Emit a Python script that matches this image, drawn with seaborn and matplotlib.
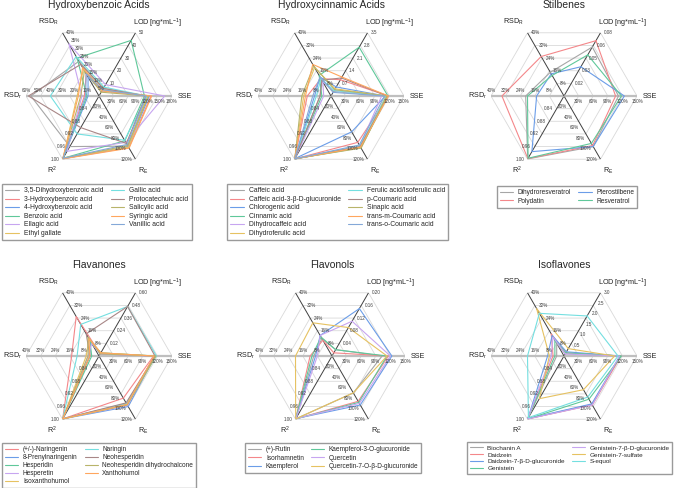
import numpy as np
import pandas as pd
import matplotlib
matplotlib.use('Agg')
import matplotlib.pyplot as plt
from matplotlib.lines import Line2D
import seaborn as sns

sns.set_style("white")
plt.rcParams['font.family'] = ['Liberation Sans', 'DejaVu Sans']
plt.rcParams['mathtext.default'] = 'regular'

# axis order round the hexagon: LOD, SSE, R_E, R2, RSD_r, RSD_R
axis_names = ['LOD [ng*mL$^{-1}$]', 'SSE', 'R$_E$', 'R$^2$', 'RSD$_r$', 'RSD$_R$']
axis_angles = [60, 0, -60, -120, 180, 120]

palette = ['#a6a6a6', '#f4878a', '#6b9de8', '#5fc89a', '#c7a5f0', '#e6c261',
           '#74dfe0', '#a88787', '#b8b46a', '#ffa65e', '#84a8d8']

# ---------------- Hydroxybenzoic acids ----------------
hba_names = ['3,5-Dihydroxybenzoic acid', '3-Hydroxybenzoic acid', '4-Hydroxybenzoic acid',
             'Benzoic acid', 'Ellagic acid', 'Ethyl gallate', 'Gallic acid',
             'Protocatechuic acid', 'Salicylic acid', 'Syringic acid', 'Vanillic acid']
hba_lod = [6, 5, 4, 44, 9, 5, 7, 6, 3, 4, 5]
hba_sse = [118, 128, 124, 112, 162, 120, 118, 115, 122, 130, 116]
hba_re = [95, 98, 96, 85, 88, 97, 84, 90, 94, 99, 92]
hba_r2 = [0.96, 0.998, 0.999, 0.997, 0.975, 0.996, 0.92, 0.90, 0.998, 0.999, 0.997]
hba_rsdr = [56, 12, 9, 10, 14, 18, 40, 58, 15, 17, 11]
hba_rsdR = [22, 14, 12, 24, 33, 17, 25, 20, 16, 18, 14]

# ---------------- Hydroxycinnamic acids ----------------
hca_names = ['Caffeic acid', 'Caffeic acid-3-β-D-glucuronide', 'Chlorogenic acid',
             'Cinnamic acid', 'Dihydrocaffeic acid', 'Dihydroferulic acid',
             'Ferulic acid/Isoferulic acid', 'p-Coumaric acid', 'Sinapic acid',
             'trans-m-Coumaric acid', 'trans-o-Coumaric acid']
hca_lod = [0.25, 0.9, 0.5, 2.7, 0.3, 0.4, 0.3, 1.0, 0.35, 1.05, 0.2]
hca_sse = [115, 118, 112, 117, 104, 113, 114, 116, 115, 118, 110]
hca_re = [96, 88, 68, 98, 95, 97, 95, 96, 99, 97, 93]
hca_r2 = [0.999, 0.999, 0.998, 0.999, 0.998, 0.999, 0.999, 0.999, 0.998, 0.999, 0.999]
hca_rsdr = [6, 13, 9, 5, 4, 15, 8, 6, 16, 14, 10]
hca_rsdR = [10, 11, 12, 13, 9, 18, 11, 10, 19, 20, 12]

# ---------------- Stilbenes ----------------
stb_names = ['Dihydroresveratrol', 'Polydatin', 'Pterostilbene', 'Resveratrol']
stb_lod = [0.062, 0.070, 0.037, 0.052]
stb_sse = [112, 106, 124, 118]
stb_re = [96, 94, 96, 90]
stb_r2 = [0.999, 0.998, 0.976, 0.997]
stb_rsdr = [21, 34, 15, 20]
stb_rsdR = [15, 25, 14, 13]

# ---------------- Flavanones ----------------
fla_names = ['(+/-)-Naringenin', '8-Prenylnaringenin', 'Hesperidin', 'Hesperetin',
             'Isoxanthohumol', 'Naringin', 'Neohesperidin',
             'Neohesperidin dihydrochalcone', 'Xanthohumol']
fla_lod = [0.02, 0.02, 0.03, 0.02, 0.03, 0.47, 0.47, 0.02, 0.03]
fla_sse = [112, 115, 116, 113, 114, 118, 115, 117, 113]
fla_re = [80, 96, 91, 94, 92, 90, 89, 93, 92]
fla_r2 = [0.999, 0.999, 0.999, 0.998, 0.999, 0.999, 0.999, 0.999, 0.999]
fla_rsdr = [15, 5, 4, 6, 7, 12, 5, 6, 5]
fla_rsdR = [25, 9, 10, 8, 11, 20, 14, 12, 11]

# ---------------- Flavonols ----------------
fol_names = ['(+)-Rutin', 'Isorhamnetin', 'Kaempferol', 'Kaempferol-3-O-glucuronide',
             'Quercetin', 'Quercetin-7-O-β-D-glucuronide']
fol_lod = [0.02, 0.01, 0.15, 0.02, 0.11, 0.09]
fol_sse = [103, 116, 123, 113, 120, 113]
fol_re = [70, 86, 93, 88, 90, 70]
fol_r2 = [0.999, 0.999, 0.998, 0.999, 0.998, 0.999]
fol_rsdr = [10, 12, 9, 11, 8, 20]
fol_rsdR = [11, 10, 13, 12, 13, 21]

# ---------------- Isoflavones ----------------
iso_names = ['Biochanin A', 'Daidzein', 'Daidzein-7-β-D-glucuronide', 'Genistein',
             'Genistein-7-β-D-glucuronide', 'Genistein-7-sulfate', 'S-equol']
iso_lod = [0.1, 0.15, 0.2, 0.15, 0.1, 0.35, 1.9]
iso_sse = [116, 117, 115, 118, 114, 104, 111]
iso_re = [92, 93, 91, 82, 93, 64, 78]
iso_r2 = [0.999, 0.999, 0.998, 0.999, 0.999, 0.935, 0.995]
iso_rsdr = [4, 6, 9, 5, 7, 8, 20]
iso_rsdR = [8, 14, 13, 10, 12, 30, 27]

# tick labels per axis
lod_ticks_hba = ['10', '20', '30', '40', '50']
lod_ticks_hca = ['0.7', '1.4', '2.1', '2.8', '3.5']
lod_ticks_stb = ['0.02', '0.03', '0.05', '0.06', '0.08']
lod_ticks_fla = ['0.12', '0.24', '0.36', '0.48', '0.60']
lod_ticks_fol = ['0.04', '0.08', '0.12', '0.16', '0.20']
lod_ticks_iso = ['0.5', '1.0', '1.5', '2.0', '2.5', '3.0']
sse_ticks_hba = ['30%', '60%', '90%', '120%', '150%', '180%']
sse_ticks = ['30%', '60%', '90%', '120%', '150%']
re_ticks = ['20%', '40%', '60%', '80%', '100%', '120%']
r2_ticks = ['0.84', '0.88', '0.92', '0.96', '1.00']
rsdr_ticks_hba = ['10%', '20%', '30%', '40%', '50%', '60%']
rsd_ticks = ['8%', '16%', '24%', '32%', '40%']
rsdR_ticks_hba = ['5%', '10%', '15%', '20%', '25%', '30%', '35%', '40%']

W, H = 676, 488
fig = plt.figure(figsize=(W / 100, H / 100), dpi=100)
R = 73

label_style = {
    60: dict(off=(2.5, 0), ha='left', va='center'),
    0: dict(off=(0, -2), ha='center', va='top'),
    -60: dict(off=(-2.5, 0), ha='right', va='center'),
    -120: dict(off=(-2.5, 0), ha='right', va='center'),
    180: dict(off=(0, 2), ha='center', va='bottom'),
    120: dict(off=(2.5, 0), ha='left', va='center'),
}
name_pos = [(0.90, 1.0), (1.09, 0.5), (0.80, -0.01), (0.18, -0.01), (-0.09, 0.5), (0.15, 1.01)]


def radar(cx, cy, title, names, cols, lims, ticks, colors, leg_xy, leg_fs=4.8, leg_ls=0.22):
    ax = fig.add_axes([(cx - R) / W, 1 - (cy + R) / H, 2 * R / W, 2 * R / H], projection='polar')
    th = np.deg2rad(axis_angles + [axis_angles[0]])
    # hexagonal grid
    for k in range(1, 6):
        ax.plot(th, [k / 5] * 7, color='#d9d9d9', lw=0.6, zorder=1)
    for a in axis_angles:
        if a in (0, 180):
            ax.plot([np.deg2rad(a)] * 2, [0, 1], color='#bfbfbf', lw=1.6, zorder=1)
        else:
            ax.plot([np.deg2rad(a)] * 2, [0, 1], color='#404040', lw=0.7, zorder=1)

    rows = []
    for i, n in enumerate(names):
        for j in range(7):
            k = j % 6
            lo, hi = lims[k]
            rows.append({'compound': n, 'theta': th[j], 'r': (cols[k][i] - lo) / (hi - lo), 'step': j})
    df = pd.DataFrame(rows)
    sns.lineplot(data=df, x='theta', y='r', hue='compound', palette=dict(zip(names, colors)),
                 sort=False, estimator=None, lw=0.8, ax=ax, legend=False, zorder=3)

    ax.set_ylim(0, 1)
    ax.set_xticks([])
    ax.set_yticks([])
    ax.grid(False)
    ax.spines['polar'].set_visible(False)
    ax.patch.set_alpha(0)
    ax.set_xlabel('')
    ax.set_ylabel('')

    for k, a in enumerate(axis_angles):
        st = label_style[a]
        labs = ticks[k]
        n = len(labs)
        for m, lab in enumerate(labs):
            ax.annotate(lab, xy=(np.deg2rad(a), (m + 1) / n), xytext=st['off'],
                        textcoords='offset points', ha=st['ha'], va=st['va'],
                        fontsize=3.3, color='#404040', annotation_clip=False)
        ax.text(name_pos[k][0], name_pos[k][1], axis_names[k], transform=ax.transAxes,
                ha='center', va='center', fontsize=5.2, color='#222222')

    ax.text(0.5, 1.125, title, transform=ax.transAxes, ha='center', va='center', fontsize=7.5)

    handles = [Line2D([], [], color=c, lw=0.8) for c in colors]
    fig.legend(handles, names, loc='upper left', bbox_to_anchor=(leg_xy[0] / W, 1 - leg_xy[1] / H),
               ncol=2, fontsize=leg_fs, frameon=True, fancybox=False, edgecolor='#9a9a9a',
               framealpha=1, handlelength=2.0, handletextpad=0.7, columnspacing=1.1,
               labelspacing=leg_ls, borderpad=0.5, borderaxespad=0)


lims_common = lambda lod_max, sse_max=150, rsdr_max=40: [(0, lod_max), (0, sse_max), (0, 120),
                                                         (0.8, 1.0), (0, rsdr_max), (0, 40)]

radar(99, 96, 'Hydroxybenzoic Acids', hba_names,
      [hba_lod, hba_sse, hba_re, hba_r2, hba_rsdr, hba_rsdR],
      lims_common(50, 180, 60),
      [lod_ticks_hba, sse_ticks_hba, re_ticks, r2_ticks, rsdr_ticks_hba, rsdR_ticks_hba],
      palette, (2, 184), 4.9)

radar(331, 96, 'Hydroxycinnamic Acids', hca_names,
      [hca_lod, hca_sse, hca_re, hca_r2, hca_rsdr, hca_rsdR],
      lims_common(3.5),
      [lod_ticks_hca, sse_ticks, re_ticks, r2_ticks, rsd_ticks, rsd_ticks],
      palette, (227, 184), 4.9)

radar(564, 96, 'Stilbenes', stb_names,
      [stb_lod, stb_sse, stb_re, stb_r2, stb_rsdr, stb_rsdR],
      lims_common(0.08),
      [lod_ticks_stb, sse_ticks, re_ticks, r2_ticks, rsd_ticks, rsd_ticks],
      palette[:4], (497, 186), 4.7)

radar(99, 356, 'Flavanones', fla_names,
      [fla_lod, fla_sse, fla_re, fla_r2, fla_rsdr, fla_rsdR],
      lims_common(0.60),
      [lod_ticks_fla, sse_ticks, re_ticks, r2_ticks, rsd_ticks, rsd_ticks],
      palette[1:10], (2, 443), 4.7, 0.14)

radar(332, 356, 'Flavonols', fol_names,
      [fol_lod, fol_sse, fol_re, fol_r2, fol_rsdr, fol_rsdR],
      lims_common(0.20),
      [lod_ticks_fol, sse_ticks, re_ticks, r2_ticks, rsd_ticks, rsd_ticks],
      palette[:6], (245, 443), 4.7)

radar(564, 356, 'Isoflavones', iso_names,
      [iso_lod, iso_sse, iso_re, iso_r2, iso_rsdr, iso_rsdR],
      lims_common(3.0),
      [lod_ticks_iso, sse_ticks, re_ticks, r2_ticks, rsd_ticks, rsd_ticks],
      palette[:7], (467, 442), 4.6)

fig.savefig('out.png', dpi=100)
